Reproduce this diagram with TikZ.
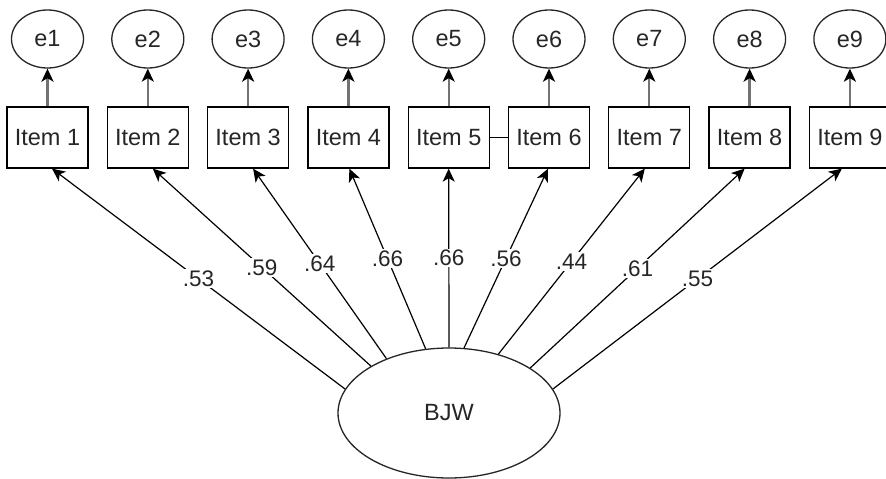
\documentclass[tikz,border=0pt]{standalone}
\usepackage{fontspec}
\setmainfont{Liberation Sans}
\usetikzlibrary{arrows.meta,calc,shapes.geometric}
\begin{document}
\begin{tikzpicture}[x=1pt,y=-1pt,
  txt/.style={font=\fontsize{23.5}{27}\selectfont, text=black!85},
  itembox/.style={draw=black, line width=1.3pt, minimum width=81pt, minimum height=61pt, inner sep=0pt, fill=white, txt},
  errell/.style={ellipse, draw=black!85, line width=1.3pt, minimum width=72pt, minimum height=58pt, inner sep=0pt, txt},
  latent/.style={ellipse, draw=black!85, line width=1.3pt, minimum width=222pt, minimum height=130pt, inner sep=0pt, txt},
  errarrow/.style={draw=black!55, line width=2.3pt, -{Stealth[length=13pt,width=12pt,inset=3.5pt,color=black]}},
  load/.style={draw=black, line width=1.2pt, -{Stealth[length=13pt,width=12pt,inset=3.5pt]}},
  lab/.style={fill=white, inner sep=1.5pt, font=\fontsize{22.5}{26}\selectfont, text=black!85}
]
\useasboundingbox (0,0) rectangle (886,479);
\fill[white] (0,0) rectangle (886,479);

\foreach \i/\x in {1/47.5,2/147.8,3/248.1,4/348.4,5/448.7,6/549,7/649.3,8/749.6,9/849.9}{
  \node[itembox] (i\i) at (\x,137.5) {Item \i};
  \node[errell] (e\i) at (\x,39) {e\i};
  \draw[errarrow] (i\i.north) -- (e\i.south);
}

\node[latent] (bjw) at (449,413) {BJW};

\foreach \i/\ang/\off/\lab in {1/167.3/4.5/.53, 2/149.8/5/.59, 3/139.6/5/.64, 4/110.7/1/.66, 5/90/0/.66, 6/77.2/-1/.56, 7/50.2/-4.5/.44, 8/29.9/-5/.61, 9/13.4/-8/.55}{
  \draw[load] (bjw.\ang) -- node[lab]{\lab} ($(i\i.south)+(\off,0)$);
}

\draw[line width=1.2pt] (i5.east) -- (i6.west);
\end{tikzpicture}
\end{document}
